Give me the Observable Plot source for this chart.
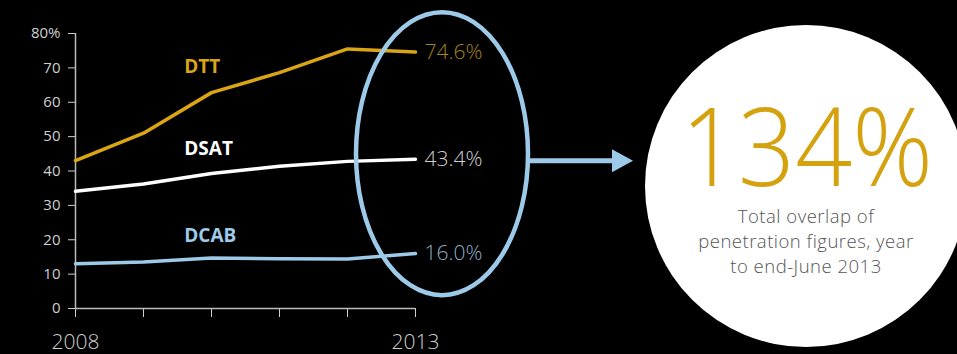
<!DOCTYPE html>
<html>
<head>
<meta charset="utf-8">
<script src="https://cdn.jsdelivr.net/npm/d3@7"></script>
<script src="https://cdn.jsdelivr.net/npm/@observablehq/plot@0.6"></script>
<style>
  html, body { margin: 0; padding: 0; background: #000; }
  #chart svg { display: block; }
</style>
</head>
<body>
<div id="chart"></div>
<script>
// ---- data ----
const years = [2008, 2009, 2010, 2011, 2012, 2013];
const dtt  = [43.0, 51.0, 62.8, 68.6, 75.5, 74.6];
const dsat = [34.1, 36.2, 39.3, 41.4, 42.8, 43.4];
const dcab = [13.0, 13.5, 14.7, 14.5, 14.4, 16.0];
const seriesNames = ["DTT", "DSAT", "DCAB"];
const seriesColors = ["#d9a514", "#ffffff", "#9ccae8"];
const nameLabelX = 2009.6;
const nameLabelY = [70.4, 46.5, 21.2];
const endLabels = ["74.6%", "43.4%", "16.0%"];
const endLabelColors = ["#a8841a", "#d0d0d0", "#8fadc6"];
const yTicks = [0, 10, 20, 30, 40, 50, 60, 70, 80];
const xTickLabels = ["2008", "", "", "", "", "2013"];
const bigNumber = "134%";
const noteLines = ["Total overlap of", "penetration figures, year", "to end-June 2013"];

// ---- build table ----
const seriesValues = [dtt, dsat, dcab];
const rows = [];
seriesNames.forEach((s, i) => years.forEach((yr, j) => rows.push({series: s, year: yr, value: seriesValues[i][j]})));
const lastRows = seriesNames.map((s, i) => ({series: s, year: years[years.length - 1], value: seriesValues[i][years.length - 1], label: endLabels[i], color: endLabelColors[i]}));
const nameRows = seriesNames.map((s, i) => ({series: s, year: nameLabelX, value: nameLabelY[i], color: seriesColors[i]}));

const FONT = "'Open Sans', Lato, sans-serif";

const plot = Plot.plot({
  width: 957,
  height: 354,
  marginLeft: 75,
  marginRight: 542,
  marginTop: 33,
  marginBottom: 46,
  style: {background: "#000", fontFamily: FONT, overflow: "visible"},
  x: {domain: [2008, 2013]},
  y: {domain: [0, 80]},
  color: {domain: seriesNames, range: seriesColors},
  marks: [
    Plot.axisY({ticks: yTicks, tickSize: 7, tickPadding: 8, tickFormat: d => d === 80 ? "80%" : String(d), fontSize: 15, color: "#cfcfcf", label: null}),
    Plot.axisX({ticks: years, tickSize: 9, tickPadding: 17, tickFormat: d => xTickLabels[years.indexOf(d)], fontSize: 21, fontWeight: 300, color: "#cfcfcf", label: null}),
    Plot.ruleX([2008], {stroke: "#bbb", strokeWidth: 1.5}),
    Plot.ruleY([0], {stroke: "#bbb", strokeWidth: 1.5}),
    Plot.line(rows, {x: "year", y: "value", z: "series", stroke: "series", strokeWidth: 3.5, curve: "linear"}),
    Plot.text(nameRows, {x: "year", y: "value", text: "series", fill: "color", textAnchor: "start", fontSize: 19, fontWeight: "bold"}),
    Plot.text(lastRows, {x: "year", y: "value", text: "label", fill: "color", textAnchor: "start", dx: 9, fontSize: 21, fontWeight: 300})
  ]
});

document.getElementById("chart").appendChild(plot);

// ---- annotations positioned via the plot's scales ----
const xs = plot.scale("x"), ys = plot.scale("y");
const svg = d3.select(plot);
const cx = xs.apply(2013) + 27, cy = ys.apply(44.9), rx = 86, ry = 141.5;
const annot = svg.append("g");
annot.append("ellipse").attr("cx", cx).attr("cy", cy).attr("rx", rx).attr("ry", ry)
  .attr("fill", "none").attr("stroke", "#9ccae8").attr("stroke-width", 4.5);
const ay = cy + 7;
annot.append("line").attr("x1", cx + rx).attr("x2", 614).attr("y1", ay).attr("y2", ay)
  .attr("stroke", "#9ccae8").attr("stroke-width", 5);
annot.append("path").attr("d", `M612,${ay - 11.5}L633,${ay}L612,${ay + 11.5}Z`).attr("fill", "#9ccae8");

const ccx = 806, ccy = 186, cr = 161;
annot.append("circle").attr("cx", ccx).attr("cy", ccy).attr("r", cr).attr("fill", "#fff");
annot.append("text").attr("x", ccx + 1).attr("y", 186).attr("text-anchor", "middle")
  .attr("font-family", FONT).attr("font-weight", 300).attr("font-size", 108).attr("fill", "#d4a20e")
  .attr("textLength", 252).attr("lengthAdjust", "spacingAndGlyphs")
  .text(bigNumber);
const note = annot.append("text").attr("x", ccx).attr("y", 223).attr("text-anchor", "middle")
  .attr("font-family", FONT).attr("font-weight", 300).attr("font-size", 18.5).attr("fill", "#555")
  .attr("letter-spacing", 0.5);
noteLines.forEach((t, i) => {
  note.append("tspan").attr("x", ccx).attr("dy", i === 0 ? 0 : 25.2).text(t);
});
</script>
</body>
</html>
